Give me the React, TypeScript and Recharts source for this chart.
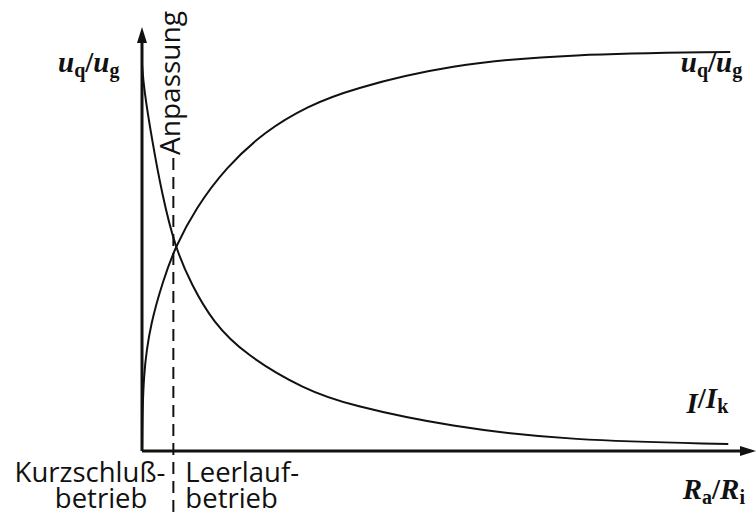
import React from "react";
import { LineChart, Line, XAxis, YAxis, ReferenceLine } from "recharts";

// R_a/R_i sample positions and the two normalised curves
const ratioU = [0, 0.03, 0.27, 0.64, 1.0, 1.64, 2.52, 3.73, 5.03, 6.3, 9.33, 12.97, 17.82];
const voltageRatio = [0, 0.19, 0.31, 0.41, 0.49, 0.585, 0.68, 0.77, 0.83, 0.87, 0.93, 0.955, 0.96];

const ratioI = [0, 0.06, 0.3, 0.6, 1.0, 1.5, 2.15, 3.12, 4.94, 6.3, 9.33, 12.97, 17.76];
const currentRatio = [0.93, 0.87, 0.75, 0.62, 0.49, 0.4, 0.31, 0.232, 0.147, 0.11, 0.058, 0.025, 0.017];

// matching point (dashed marker) and axis extents
const matchRatio = 0.95;
const xMax = 18.6;
const yMax = 1.02;

const uData = ratioU.map((x, i) => ({ x, v: voltageRatio[i] }));
const iData = ratioI.map((x, i) => ({ x, v: currentRatio[i] }));

const INK = "#111";
const SANS = "'Open Sans', sans-serif";
const SERIF = "'Liberation Serif', serif";

const Ratio = ({ x, y, a, sa, b, sb, anchor = "start" }: any) => (
  <text x={x} y={y} fill={INK} fontFamily={SERIF} fontWeight="bold" fontSize={29} textAnchor={anchor}>
    <tspan fontStyle="italic">{a}</tspan>
    <tspan fontSize={20} dy={5}>{sa}</tspan>
    <tspan dy={-5}>/</tspan>
    <tspan fontStyle="italic">{b}</tspan>
    <tspan fontSize={20} dy={5}>{sb}</tspan>
  </text>
);

const YAxisArrow = (p: any) => (
  <g>
    <line x1={p.x1} y1={p.y1} x2={p.x2} y2={p.y2 + 12} stroke={INK} strokeWidth={3} />
    <polygon points={`${p.x2},${p.y2} ${p.x2 - 5},${p.y2 + 16} ${p.x2 + 5},${p.y2 + 16}`} fill={INK} />
    <Ratio x={p.x2 - 84} y={p.y2 + 45} a="u" sa="q" b="u" sb="g" />
  </g>
);

const XAxisArrow = (p: any) => (
  <g>
    <line x1={p.x1} y1={p.y1} x2={p.x2 - 12} y2={p.y2} stroke={INK} strokeWidth={3} />
    <polygon points={`${p.x2},${p.y2} ${p.x2 - 16},${p.y2 - 5} ${p.x2 - 16},${p.y2 + 5}`} fill={INK} />
    <Ratio x={p.x2 - 11} y={p.y2 + 48} a="R" sa="a" b="R" sb="i" anchor="end" />
  </g>
);

const MatchMarker = (p: any) => {
  const x = p.x1;
  return (
    <g fill={INK} fontFamily={SANS}>
      <line x1={x} y1={p.y1} x2={x} y2={p.y2} stroke={INK} strokeWidth={2} strokeDasharray="12 7" />
      <text x={x + 7} y={83} fontSize={28} textAnchor="middle" transform={`rotate(-90 ${x + 7} 83)`}>
        Anpassung
      </text>
      <g fontSize={27.5}>
        <text x={x - 8} y={482} textAnchor="end">Kurzschluß-</text>
        <text x={x - 26} y={508} textAnchor="end">betrieb</text>
        <text x={x + 12} y={482}>Leerlauf-</text>
        <text x={x + 12} y={508}>betrieb</text>
      </g>
    </g>
  );
};

const endLabel = (count: number, render: (x: number, y: number) => React.ReactElement) => (props: any) =>
  props.index === count - 1 ? render(props.x, props.y) : <g />;

export default function App() {
  return (
    <div style={{ position: "absolute", left: 0, top: 0, background: "#fff" }}>
      <LineChart
        width={756}
        height={517}
        margin={{ top: 27, right: 0, bottom: 66, left: 142 }}
      >
        <XAxis type="number" dataKey="x" domain={[0, xMax]} hide allowDataOverflow />
        <YAxis type="number" domain={[0, yMax]} hide allowDataOverflow />
        <ReferenceLine
          segment={[{ x: matchRatio, y: 0.705 }, { x: matchRatio, y: -0.15 }]}
          ifOverflow="visible"
          shape={MatchMarker}
        />
        <ReferenceLine
          segment={[{ x: 0, y: 0 }, { x: 0, y: yMax }]}
          ifOverflow="visible"
          shape={YAxisArrow}
        />
        <ReferenceLine
          segment={[{ x: 0, y: 0 }, { x: xMax, y: 0 }]}
          ifOverflow="visible"
          shape={XAxisArrow}
        />
        <Line
          data={uData}
          dataKey="v"
          type="basis"
          stroke={INK}
          strokeWidth={2}
          dot={false}
          isAnimationActive={false}
          label={endLabel(uData.length, (x, y) => (
            <Ratio x={x + 12} y={y + 20} a="u" sa="q" b="u" sb="g" anchor="end" />
          ))}
        />
        <Line
          data={iData}
          dataKey="v"
          type="basis"
          stroke={INK}
          strokeWidth={2}
          dot={false}
          isAnimationActive={false}
          label={endLabel(iData.length, (x, y) => (
            <Ratio x={x} y={y - 31} a="I" sa="" b="I" sb="k" anchor="end" />
          ))}
        />
      </LineChart>
    </div>
  );
}
